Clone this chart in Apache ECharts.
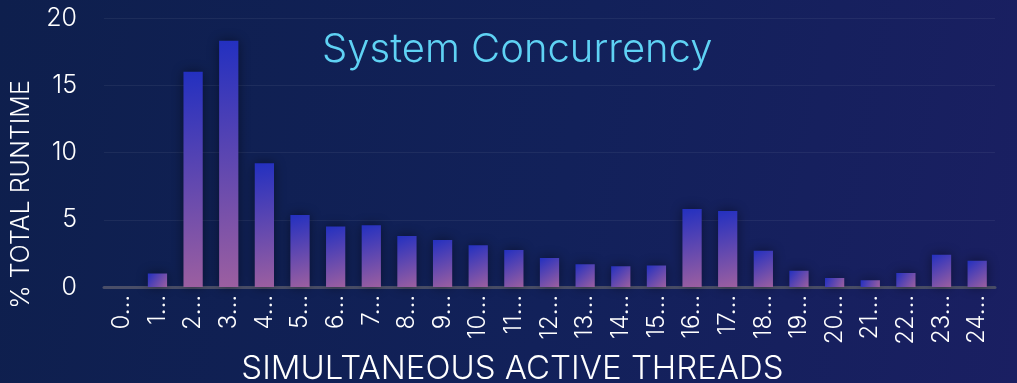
<!DOCTYPE html>
<html>
<head>
<meta charset="utf-8">
<script src="https://cdn.jsdelivr.net/npm/echarts@6/dist/echarts.min.js"></script>
<style>
  html, body {
    margin: 0;
    padding: 0;
  }
  body {
    background: linear-gradient(100deg, #0e1f4d 0%, #12215a 55%, #1a1f62 100%);
  }
  #chart {
    width: 1017px;
    height: 383px;
  }
</style>
</head>
<body>
<div id="chart"></div>
<script>
const threadCounts = ['0 threads', '1 threads', '2 threads', '3 threads', '4 threads', '5 threads',
  '6 threads', '7 threads', '8 threads', '9 threads', '10 threads', '11 threads', '12 threads',
  '13 threads', '14 threads', '15 threads', '16 threads', '17 threads', '18 threads', '19 threads',
  '20 threads', '21 threads', '22 threads', '23 threads', '24 threads'];
const runtimePct = [0, 1.0, 16.0, 18.3, 9.2, 5.35, 4.5, 4.6, 3.8, 3.5, 3.1, 2.75, 2.15,
  1.7, 1.55, 1.6, 5.8, 5.65, 2.7, 1.2, 0.67, 0.5, 1.05, 2.4, 1.95];
const yTicks = [0, 5, 10, 15, 20];

const fontFamily = 'Inter, Lato, sans-serif';
const myChart = echarts.init(document.getElementById('chart'));

const option = {
  backgroundColor: 'transparent',
  title: {
    text: 'System Concurrency',
    left: 317,
    top: 25,
    textStyle: {
      color: '#5fd2f4',
      fontFamily: fontFamily,
      fontWeight: 300,
      fontSize: 40
    }
  },
  grid: {
    left: 104,
    right: 22,
    top: 18,
    bottom: 96,
    outerBoundsMode: 'none',
    containLabel: false
  },
  xAxis: {
    type: 'category',
    data: threadCounts,
    name: 'SIMULTANEOUS ACTIVE THREADS',
    nameLocation: 'middle',
    nameGap: 64,
    nameTextStyle: {
      color: '#ffffff',
      fontFamily: fontFamily,
      fontWeight: 300,
      fontSize: 33,
      // title sits a bit left of the plot centre in the original
      padding: [0, 74, 0, 0]
    },
    axisLine: {
      lineStyle: { color: '#4a4e68', width: 3 }
    },
    axisTick: { show: false },
    axisLabel: {
      rotate: 90,
      margin: 8,
      interval: 0,
      color: '#ffffff',
      fontFamily: fontFamily,
      fontWeight: 300,
      fontSize: 24,
      // labels are cut short in the original, keep the count + ellipsis
      formatter: (value) => value.split(' ')[0] + '…'
    }
  },
  yAxis: {
    type: 'value',
    min: yTicks[0],
    max: yTicks[yTicks.length - 1],
    interval: 5,
    name: '% TOTAL RUNTIME',
    nameLocation: 'middle',
    nameGap: 70,
    nameTextStyle: {
      color: '#ffffff',
      fontFamily: fontFamily,
      fontWeight: 300,
      fontSize: 25,
      padding: [0, 84, 0, 0]
    },
    axisLabel: {
      margin: 27,
      color: '#ffffff',
      fontFamily: fontFamily,
      fontWeight: 300,
      fontSize: 25
    },
    splitLine: {
      lineStyle: { color: 'rgba(255,255,255,0.06)', width: 1 }
    }
  },
  series: [
    {
      name: '% Total Runtime',
      type: 'bar',
      data: runtimePct,
      barWidth: '54%',
      itemStyle: {
        color: new echarts.graphic.LinearGradient(0, 0, 1, 1, [
          { offset: 0, color: '#2330c0' },
          { offset: 1, color: '#9c5fa0' }
        ]),
        shadowBlur: 12,
        shadowColor: 'rgba(0,0,0,0.45)'
      }
    }
  ]
};

myChart.setOption(option);
</script>
</body>
</html>
